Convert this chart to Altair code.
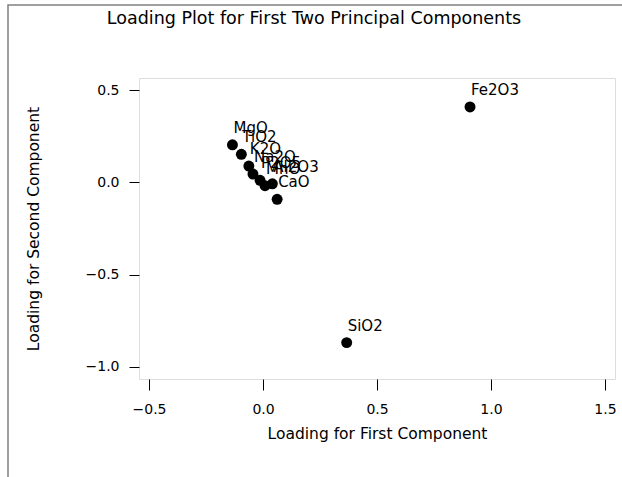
import altair as alt
import pandas as pd

names = ["Fe2O3", "SiO2", "MgO", "TiO2", "K2O", "Na2O", "P2O5", "Al2O3", "MnO", "CaO"]
comp1 = [0.908, 0.367, -0.134, -0.095, -0.062, -0.044, -0.013, 0.041, 0.009, 0.062]
comp2 = [0.408, -0.868, 0.203, 0.152, 0.088, 0.045, 0.011, -0.008, -0.018, -0.092]

df = pd.DataFrame({"name": names, "c1": comp1, "c2": comp2})

FONT = "DejaVu Sans"
W, H = 476, 301
PL, PT = 139, 78

xscale = alt.Scale(domain=[-0.5439, 1.5439], nice=False, zero=False)
yscale = alt.Scale(domain=[-1.065, 0.565], nice=False, zero=False)
minus = "replace(format(datum.value, '.1f'), '-', '\u2212')"

base = alt.Chart(df)

pts = base.mark_circle(size=120, color="black", opacity=1).encode(
    x=alt.X("c1:Q", scale=xscale,
            axis=alt.Axis(title="Loading for First Component", values=[-0.5, 0, 0.5, 1.0, 1.5],
                          labelExpr=minus, domain=False, grid=False, ticks=True, tickSize=11,
                          tickColor="black", labelPadding=12, titlePadding=10,
                          labelFont=FONT, labelFontSize=14, titleFont=FONT, titleFontSize=15.5,
                          titleFontWeight="normal", labelColor="black", titleColor="black")),
    y=alt.Y("c2:Q", scale=yscale,
            axis=alt.Axis(title="Loading for Second Component", values=[-1.0, -0.5, 0, 0.5],
                          labelExpr=minus, domain=False, grid=False, ticks=True, tickSize=10,
                          tickColor="black", labelPadding=10, titlePadding=44,
                          labelFont=FONT, labelFontSize=14, titleFont=FONT, titleFontSize=15.5,
                          titleFontWeight="normal", labelColor="black", titleColor="black")),
)

labels = base.mark_text(align="left", baseline="alphabetic", dx=1, dy=-12,
                        font=FONT, fontSize=15, color="black").encode(
    x=alt.X("c1:Q", scale=xscale), y=alt.Y("c2:Q", scale=yscale), text="name:N")

frame = alt.Chart(df.head(1)).mark_rect(filled=False, stroke="#808080", strokeWidth=1.5, clip=False).encode(
    x=alt.value(8 - PL), x2=alt.value(640 - PL), y=alt.value(5 - PT), y2=alt.value(500 - PT))

chart = alt.layer(frame, pts, labels).properties(
    width=W, height=H,
    title=alt.TitleParams("Loading Plot for First Two Principal Components", font=FONT,
                          fontSize=17.5, fontWeight="normal", color="black", anchor="middle",
                          frame="group", dx=-63, offset=0, dy=23),
    padding={"left": PL, "top": PT, "right": 622 - PL - W, "bottom": 477 - PT - H},
    autosize=alt.AutoSizeParams(type="none"),
).configure_view(stroke="#808080", strokeWidth=1.5).configure(background="white")

chart.save("out.html", embed_options={"renderer": "svg", "actions": False})
